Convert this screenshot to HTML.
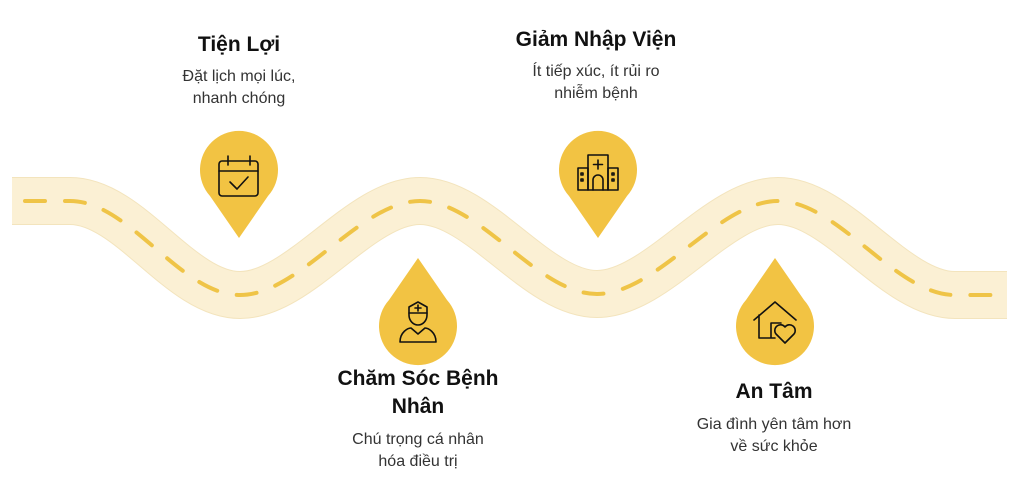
<!DOCTYPE html>
<html><head><meta charset="utf-8"><style>
body{margin:0;width:1012px;height:484px;background:#fff;overflow:hidden;font-family:"Liberation Sans","DejaVu Sans",sans-serif}
.t{position:absolute;text-align:center;color:#111;font-weight:bold;font-size:21px;line-height:28px}
.s{position:absolute;text-align:center;color:#333;font-size:16px;line-height:22px}
</style></head><body>
<svg width="1012" height="484" style="position:absolute;left:0;top:0">
<g fill="none">
<path d="M12,201 L70,201 C130,201 180,295 240,295 C300,295 360,201 420,201 C480,201 537,294 597,294 C657,294 718,201 778,201 C838,201 895,295 955,295 L1007,295" stroke="#f3e4bd" stroke-width="48"/>
<path d="M12,201 L70,201 C130,201 180,295 240,295 C300,295 360,201 420,201 C480,201 537,294 597,294 C657,294 718,201 778,201 C838,201 895,295 955,295 L1007,295" stroke="#fbf0d4" stroke-width="46"/>
<path d="M12,201 L70,201 C130,201 180,295 240,295 C300,295 360,201 420,201 C480,201 537,294 597,294 C657,294 718,201 778,201 C838,201 895,295 955,295 L1007,295" stroke="#efc447" stroke-width="4" stroke-dasharray="20,20" stroke-dashoffset="-13" stroke-linecap="round"/>
</g>
<g fill="#f2c343">
<path d="M239,238 L210,196 A39,39 0 1 1 268,196 Z"/>
<path d="M598,238 L569,196 A39,39 0 1 1 627,196 Z"/>
<path d="M418,258 L389,300 A39,39 0 1 0 447,300 Z"/>
<path d="M775,258 L746,300 A39,39 0 1 0 804,300 Z"/>
</g>
<g fill="none" stroke="#111" stroke-width="1.6" stroke-linejoin="round" stroke-linecap="round">
<rect x="219" y="161" width="39" height="35" rx="3"/><line x1="219" y1="171" x2="258" y2="171"/>
<line x1="228" y1="156" x2="228" y2="165"/><line x1="250" y1="156" x2="250" y2="165"/>
<path d="M230,182 L237,189 L248,177"/>
<rect x="588" y="155" width="20" height="35"/><rect x="578" y="168" width="10" height="22"/><rect x="608" y="168" width="10" height="22"/>
<path d="M593,190 V180 A5,5 0 0 1 603,180 V190"/><path d="M598,160 V169 M593.5,164.5 H602.5"/>
<rect x="581" y="173" width="2" height="2"/><rect x="581" y="179" width="2" height="2"/><rect x="612" y="173" width="2" height="2"/><rect x="612" y="179" width="2" height="2"/>
<path d="M409,307 L418,302 L427,307 V315 A9,10 0 0 1 409,315 Z"/><line x1="409" y1="313" x2="427" y2="313"/>
<path d="M418,305 V311 M415,308 H421"/>
<path d="M400,342 C400,332 408,328 411,328 L418,334 L425,328 C428,328 436,332 436,342 Z"/>
<path d="M754,320 L775,302 L796,320 M759,315 V338 H775 M771,338 V323 H781"/>
<path d="M785,343 L776,334 A4.5,4.5 0 0 1 785,327 A4.5,4.5 0 0 1 794,334 Z"/>
</g>
</svg>
<div class="t" style="left:139px;width:200px;top:31px">Tiện Lợi</div>
<div class="s" style="left:139px;width:200px;top:66px">Đặt lịch mọi lúc,<br>nhanh chóng</div>
<div class="t" style="left:476px;width:240px;top:26px">Giảm Nhập Viện</div>
<div class="s" style="left:476px;width:240px;top:61px">Ít tiếp xúc, ít rủi ro<br>nhiễm bệnh</div>
<div class="t" style="left:308px;width:220px;top:365px">Chăm Sóc Bệnh<br>Nhân</div>
<div class="s" style="left:308px;width:220px;top:429px">Chú trọng cá nhân<br>hóa điều trị</div>
<div class="t" style="left:664px;width:220px;top:378px">An Tâm</div>
<div class="s" style="left:654px;width:240px;top:414px">Gia đình yên tâm hơn<br>về sức khỏe</div>
</body></html>
